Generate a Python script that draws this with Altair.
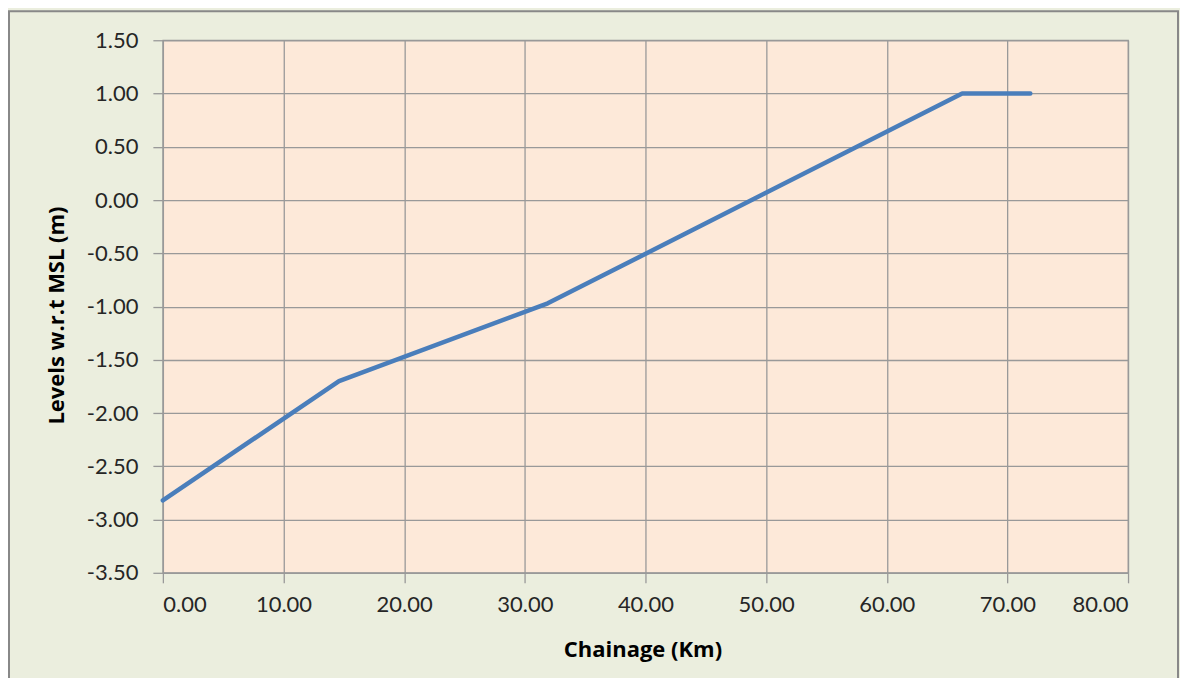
import altair as alt
import pandas as pd

chainage_km = [0.0, 14.6, 31.9, 66.25, 71.9]
levels_m = [-2.82, -1.70, -0.97, 1.00, 1.00]
x_ticks = [0, 10, 20, 30, 40, 50, 60, 70, 80]
y_ticks = [-3.5, -3.0, -2.5, -2.0, -1.5, -1.0, -0.5, 0.0, 0.5, 1.0, 1.5]

df = pd.DataFrame({"chainage": chainage_km, "level": levels_m})

W, H = 966, 533
LABEL_FONT = "Lato"
TITLE_FONT = "Open Sans"
LBL = "replace(format(datum.value, '.2f'), '\u2212', '-')"

line = alt.Chart(df).mark_line(
    color="#4A7EBB", strokeWidth=4.5, strokeCap="round", strokeJoin="round"
).encode(
    x=alt.X("chainage:Q",
            scale=alt.Scale(domain=[0, 80], nice=False, zero=False),
            axis=alt.Axis(values=x_ticks, labelExpr=LBL, title="Chainage (Km)",
                          tickSize=10, labelPadding=12, labelFontSize=22,
                          titleX=480, titleY=77, titleBaseline="middle",
                          titleAlign="center")),
    y=alt.Y("level:Q",
            scale=alt.Scale(domain=[-3.5, 1.5], nice=False, zero=False),
            axis=alt.Axis(values=y_ticks, labelExpr=LBL, title="Levels w.r.t MSL (m)",
                          tickSize=10, labelPadding=15, labelFontSize=22,
                          titleX=-106, titleY=275, titleAngle=270,
                          titleBaseline="middle", titleAlign="center")),
)

frame = alt.Chart(pd.DataFrame({"k": [0]})).mark_rect(
    filled=False, stroke="#888888", strokeWidth=2
).encode(
    x=alt.value(-154), x2=alt.value(1016),
    y=alt.value(-29), y2=alt.value(720),
)

chart = alt.layer(frame, line).properties(
    width=W, height=H,
    autosize=alt.AutoSizeParams(type="none"),
    padding={"left": 155, "top": 32, "right": 52, "bottom": 105},
    background="#EBEEDE",
).configure_view(
    fill="#FDE9D9", stroke="#999999", strokeWidth=1.3
).configure_axis(
    grid=True, gridColor="#999999", gridWidth=1.3,
    domainColor="#999999", domainWidth=1.3,
    tickColor="#999999", tickWidth=1.3,
    labelFont=LABEL_FONT, labelColor="#262626",
    titleFont=TITLE_FONT, titleFontSize=22, titleFontWeight="bold", titleColor="#000000",
)

chart.save("out.html", embed_options={"renderer": "svg", "actions": False})
